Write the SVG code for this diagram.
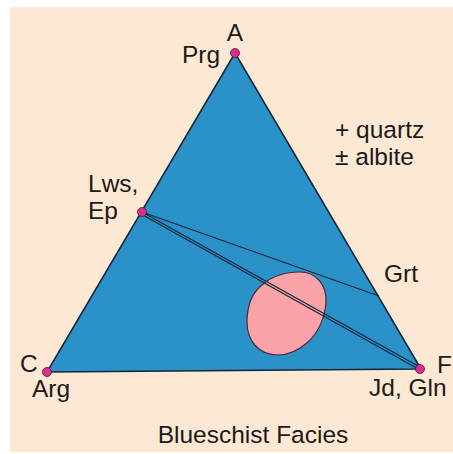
<svg xmlns="http://www.w3.org/2000/svg" width="453" height="454" viewBox="0 0 453 454">
<style>
text{font-family:"Liberation Sans",Arial,sans-serif;fill:#1c1a18;font-size:24.5px}
.edge{fill:none;stroke:#12263a;stroke-width:1.2}
.dot{fill:#d8308f;stroke:#5a1030;stroke-width:0.8}
</style>
<rect x="0" y="0" width="453" height="454" fill="#ffffff"/>
<rect x="10" y="7" width="443" height="445" fill="#fde8d3"/>
<g id="triangle">
<polygon points="235,53 47,372 421,369" fill="#2a92c8" stroke="#12263a" stroke-width="1.5" stroke-linejoin="round"/>
</g>
<g id="field">
<path d="M300,272 C316,272 327,285 326,302 C325,318 318,333 308,342 C298,351 288,355 278,355 C258,355 247,340 247,322 C247,305 252,293 262,285 C272,276 286,272 300,272 Z" fill="#f9a3a8" stroke="#4a2a3a" stroke-width="1.2"/>
</g>
<g id="connectors">
<line class="edge" x1="142" y1="212" x2="379" y2="296"/>
<line class="edge" x1="142" y1="212" x2="418" y2="366"/>
<line class="edge" x1="141" y1="214" x2="420" y2="370"/>
</g>
<g id="node-A"><circle class="dot" cx="235" cy="53" r="4.5"/><text x="235" y="41" text-anchor="middle">A</text><text x="182" y="63">Prg</text></g>
<g id="node-Ep"><circle class="dot" cx="142" cy="212" r="4.5"/><text x="88" y="192">Lws,</text><text x="88" y="219">Ep</text></g>
<g id="node-C"><circle class="dot" cx="47" cy="372" r="4.5"/><text x="20" y="372" font-size="26">C</text><text x="32" y="397">Arg</text></g>
<g id="node-F"><circle class="dot" cx="420" cy="369" r="4.5"/><text x="437" y="373">F</text><text x="369" y="396">Jd, Gln</text></g>
<g id="node-Grt"><text x="384" y="282">Grt</text></g>
<g id="notes"><text x="335" y="138" font-size="23">+ quartz</text><text x="335" y="165" font-size="23">± albite</text></g>
<text x="253" y="443" font-size="28" text-anchor="middle">Blueschist Facies</text>
</svg>
